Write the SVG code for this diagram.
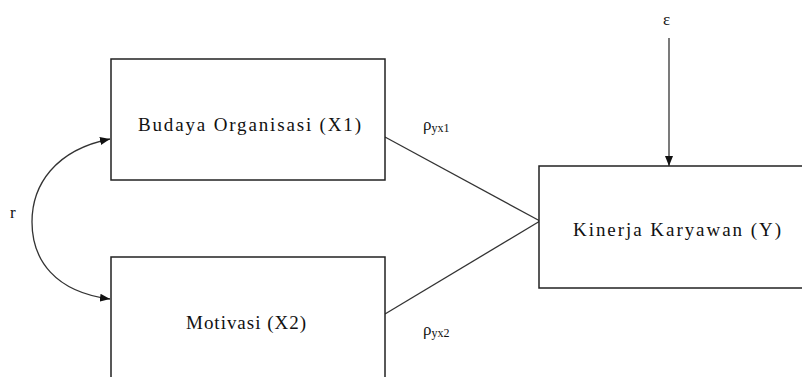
<svg xmlns="http://www.w3.org/2000/svg" width="802" height="377" viewBox="0 0 802 377">
<style>
.box{fill:#fff;stroke:#222;stroke-width:1.5}
.lbl{font-family:"Liberation Serif","Times New Roman",serif;font-size:19px;fill:#111}
.sm{font-family:"Liberation Serif","Times New Roman",serif;font-size:17px;fill:#111}
.sub{font-size:12px}
.ln{fill:none;stroke:#333;stroke-width:1.3}
</style>
<defs>
<marker id="ah" viewBox="0 0 10 8" refX="10" refY="4" markerWidth="10" markerHeight="8" markerUnits="userSpaceOnUse" orient="auto-start-reverse">
<path d="M0,0 L10,4 L0,8 Z" fill="#111"/>
</marker>
</defs>
<rect width="802" height="377" fill="#fff"/>
<g id="connectors">
<path class="ln" d="M110,139 C55,150 32,185 32,222 C32,260 55,292 110,299" marker-start="url(#ah)" marker-end="url(#ah)"/>
<line class="ln" x1="385" y1="137" x2="540" y2="221"/>
<line class="ln" x1="385" y1="314" x2="540" y2="221"/>
<line class="ln" x1="669" y1="38" x2="669" y2="166" marker-end="url(#ah)"/>
<text class="sm" x="10" y="218">r</text>
<text class="sm" x="663" y="25">ε</text>
<text class="sm" x="423" y="130">ρ<tspan class="sub" dy="2">yx1</tspan></text>
<text class="sm" x="423" y="335">ρ<tspan class="sub" dy="2">yx2</tspan></text>
</g>
<g id="node-x1">
<rect class="box" x="111" y="59" width="274" height="121"/>
<text class="lbl" x="138" y="131" textLength="223" lengthAdjust="spacing">Budaya Organisasi (X1)</text>
</g>
<g id="node-x2">
<rect class="box" x="111" y="257" width="274" height="130"/>
<text class="lbl" x="186" y="329" textLength="120" lengthAdjust="spacing">Motivasi (X2)</text>
</g>
<g id="node-y">
<rect class="box" x="539" y="166" width="275" height="122"/>
<text class="lbl" x="573" y="236" textLength="208" lengthAdjust="spacing">Kinerja Karyawan (Y)</text>
</g>
</svg>
